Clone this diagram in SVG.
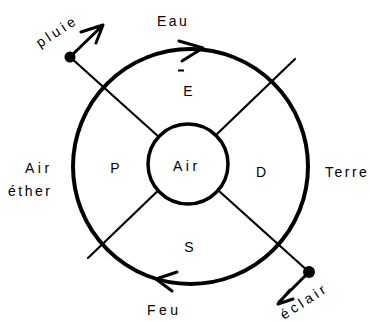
<svg xmlns="http://www.w3.org/2000/svg" width="370" height="322" viewBox="0 0 370 322">
<style>
text{font-family:"Liberation Sans",Arial,sans-serif;font-size:14px;fill:#000;letter-spacing:2.5px}
.wide{letter-spacing:3.5px}
.ln{stroke:#000;stroke-width:2.2;fill:none;stroke-linecap:round}
.ar{stroke:#000;stroke-width:3;fill:none;stroke-linecap:round;stroke-linejoin:round}
</style>
<rect width="370" height="322" fill="#fff"/>
<g id="connectors">
<line class="ln" x1="70" y1="57" x2="309" y2="272"/>
<line class="ln" x1="295" y1="59" x2="88" y2="258"/>
<path class="ar" d="M70,57 L102,26 M81,32 L103,25 L96,43"/>
<path class="ar" d="M309,272 L279,302 M290,290 L278,304 L293,299"/>
<path class="ar" d="M179,41 L203,48 L182,61"/>
<path class="ar" d="M177,272 L156,279 L172,291"/>
</g>
<g id="ring">
<circle cx="190.5" cy="166.5" r="117.5" fill="none" stroke="#000" stroke-width="4"/>
</g>
<g id="dots">
<circle cx="70" cy="57" r="5.5" fill="#000"/>
<circle cx="309" cy="272" r="6" fill="#000"/>
</g>
<g id="center">
<circle cx="188" cy="164" r="40" fill="#fff" stroke="#000" stroke-width="3.5"/>
<text x="173" y="171" class="wide">Air</text>
</g>
<g id="E"><text x="188" y="96" text-anchor="middle" style="letter-spacing:0">E</text><rect x="178" y="69.5" width="6" height="2" fill="#000"/></g>
<g id="P"><text x="115" y="173" text-anchor="middle" style="letter-spacing:0">P</text></g>
<g id="D"><text x="261" y="177" text-anchor="middle" style="letter-spacing:0">D</text></g>
<g id="S"><text x="189" y="252" text-anchor="middle" style="letter-spacing:0">S</text></g>
<g id="labels">
<text x="157" y="26">Eau</text>
<text x="325" y="177">Terre</text>
<text x="25" y="173" class="wide">Air</text>
<text x="8" y="196">éther</text>
<text x="147" y="315" class="wide">Feu</text>
<text transform="translate(40,48) rotate(-33)" class="wide">pluie</text>
<text transform="translate(284,320) rotate(-33)" class="wide">éclair</text>
</g>
</svg>
